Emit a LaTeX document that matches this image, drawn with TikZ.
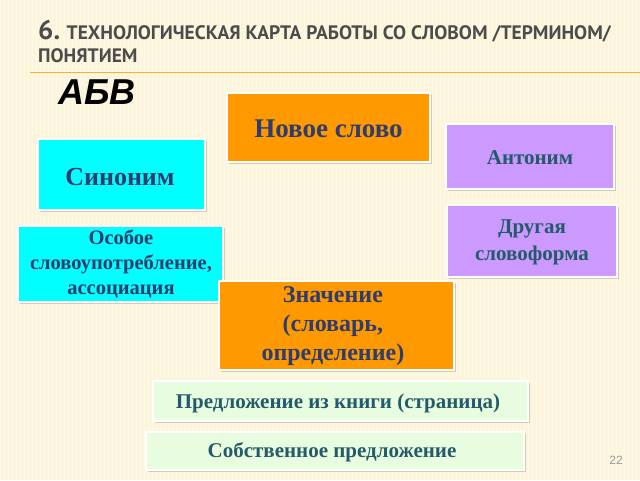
\documentclass[tikz,border=0pt]{standalone}
\usepackage{fontspec}
\setmainfont{Liberation Serif}
\newfontfamily\sansb{Liberation Sans}
\newfontfamily\titlefont{PT Sans}
\usetikzlibrary{shadows}
\definecolor{bg}{HTML}{FCF5DC}
\definecolor{org}{HTML}{FF9900}
\definecolor{lav}{HTML}{CC99FF}
\definecolor{cyn}{HTML}{00FFFF}
\definecolor{grn}{HTML}{E8FCE0}
\definecolor{txt}{HTML}{2E3C6E}
\definecolor{tl}{HTML}{245B6B}
\tikzset{
 card/.style={draw=white,line width=1.2pt,drop shadow={shadow xshift=1.5pt,shadow yshift=-1.5pt,opacity=.35}},
}
\begin{document}
\begin{tikzpicture}[x=1pt,y=-1pt]
\useasboundingbox (0,0) rectangle (640,480);
\fill[bg] (0,0) rectangle (640,480);
\foreach \i in {0,4,...,640} \draw[white,opacity=.35,line width=1pt] (\i,0) -- (\i,480);
\draw[org!80,line width=1pt] (30,72) -- (640,72);
\node (title) [anchor=north west,align=left,text=black!70,inner sep=0,font=\titlefont\bfseries\fontsize{19.5}{23}\selectfont] at (38,20) {{\fontsize{27}{23}\selectfont 6.} ТЕХНОЛОГИЧЕСКАЯ КАРТА РАБОТЫ СО СЛОВОМ /ТЕРМИНОМ/\\ПОНЯТИЕМ};
\node (abv) [anchor=west,inner sep=0,font=\sansb\bfseries\itshape\fontsize{36}{36}\selectfont] at (58,92) {АБВ};
\path[card,fill=org] (227,93) rectangle (430,162);
\node (new) [text=txt,font=\bfseries\fontsize{27}{30}\selectfont] at (328.5,129) {Новое слово};
\path[card,fill=lav] (446,124) rectangle (614,189);
\node (ant) [text=tl,font=\bfseries\fontsize{21}{24}\selectfont] at (530,158) {Антоним};
\path[card,fill=cyn] (38,139) rectangle (205,210);
\node (syn) [text=txt,font=\bfseries\fontsize{26}{30}\selectfont] at (120,177) {Синоним};
\path[card,fill=lav] (447,205) rectangle (617,277);
\node (form) [text=tl,align=center,font=\bfseries\fontsize{21}{27}\selectfont] at (532,242) {Другая\\словоформа};
\path[card,fill=cyn] (18,226) rectangle (223,302);
\node (osob) [text=txt,align=center,font=\bfseries\fontsize{20.5}{25}\selectfont] at (121,264) {Особое\\словоупотребление,\\ассоциация};
\path[card,fill=org] (219,281) rectangle (454,370);
\node (zn) [anchor=north west,text=txt,align=center,font=\bfseries\fontsize{24}{29}\selectfont] at (258,283) {Значение\\(словарь,\\определение)};
\path[card,fill=grn] (153,381) rectangle (528,421);
\node (book) [text=tl,font=\bfseries\fontsize{21}{24}\selectfont] at (338,403) {Предложение из книги (страница)};
\path[card,fill=grn] (146,432) rectangle (524,470);
\node (own) [text=tl,font=\bfseries\fontsize{21}{24}\selectfont] at (332,452) {Собственное предложение};
\node (num) [text=black!40,font=\sansb\fontsize{12}{14}\selectfont] at (616,460) {22};
\end{tikzpicture}
\end{document}
